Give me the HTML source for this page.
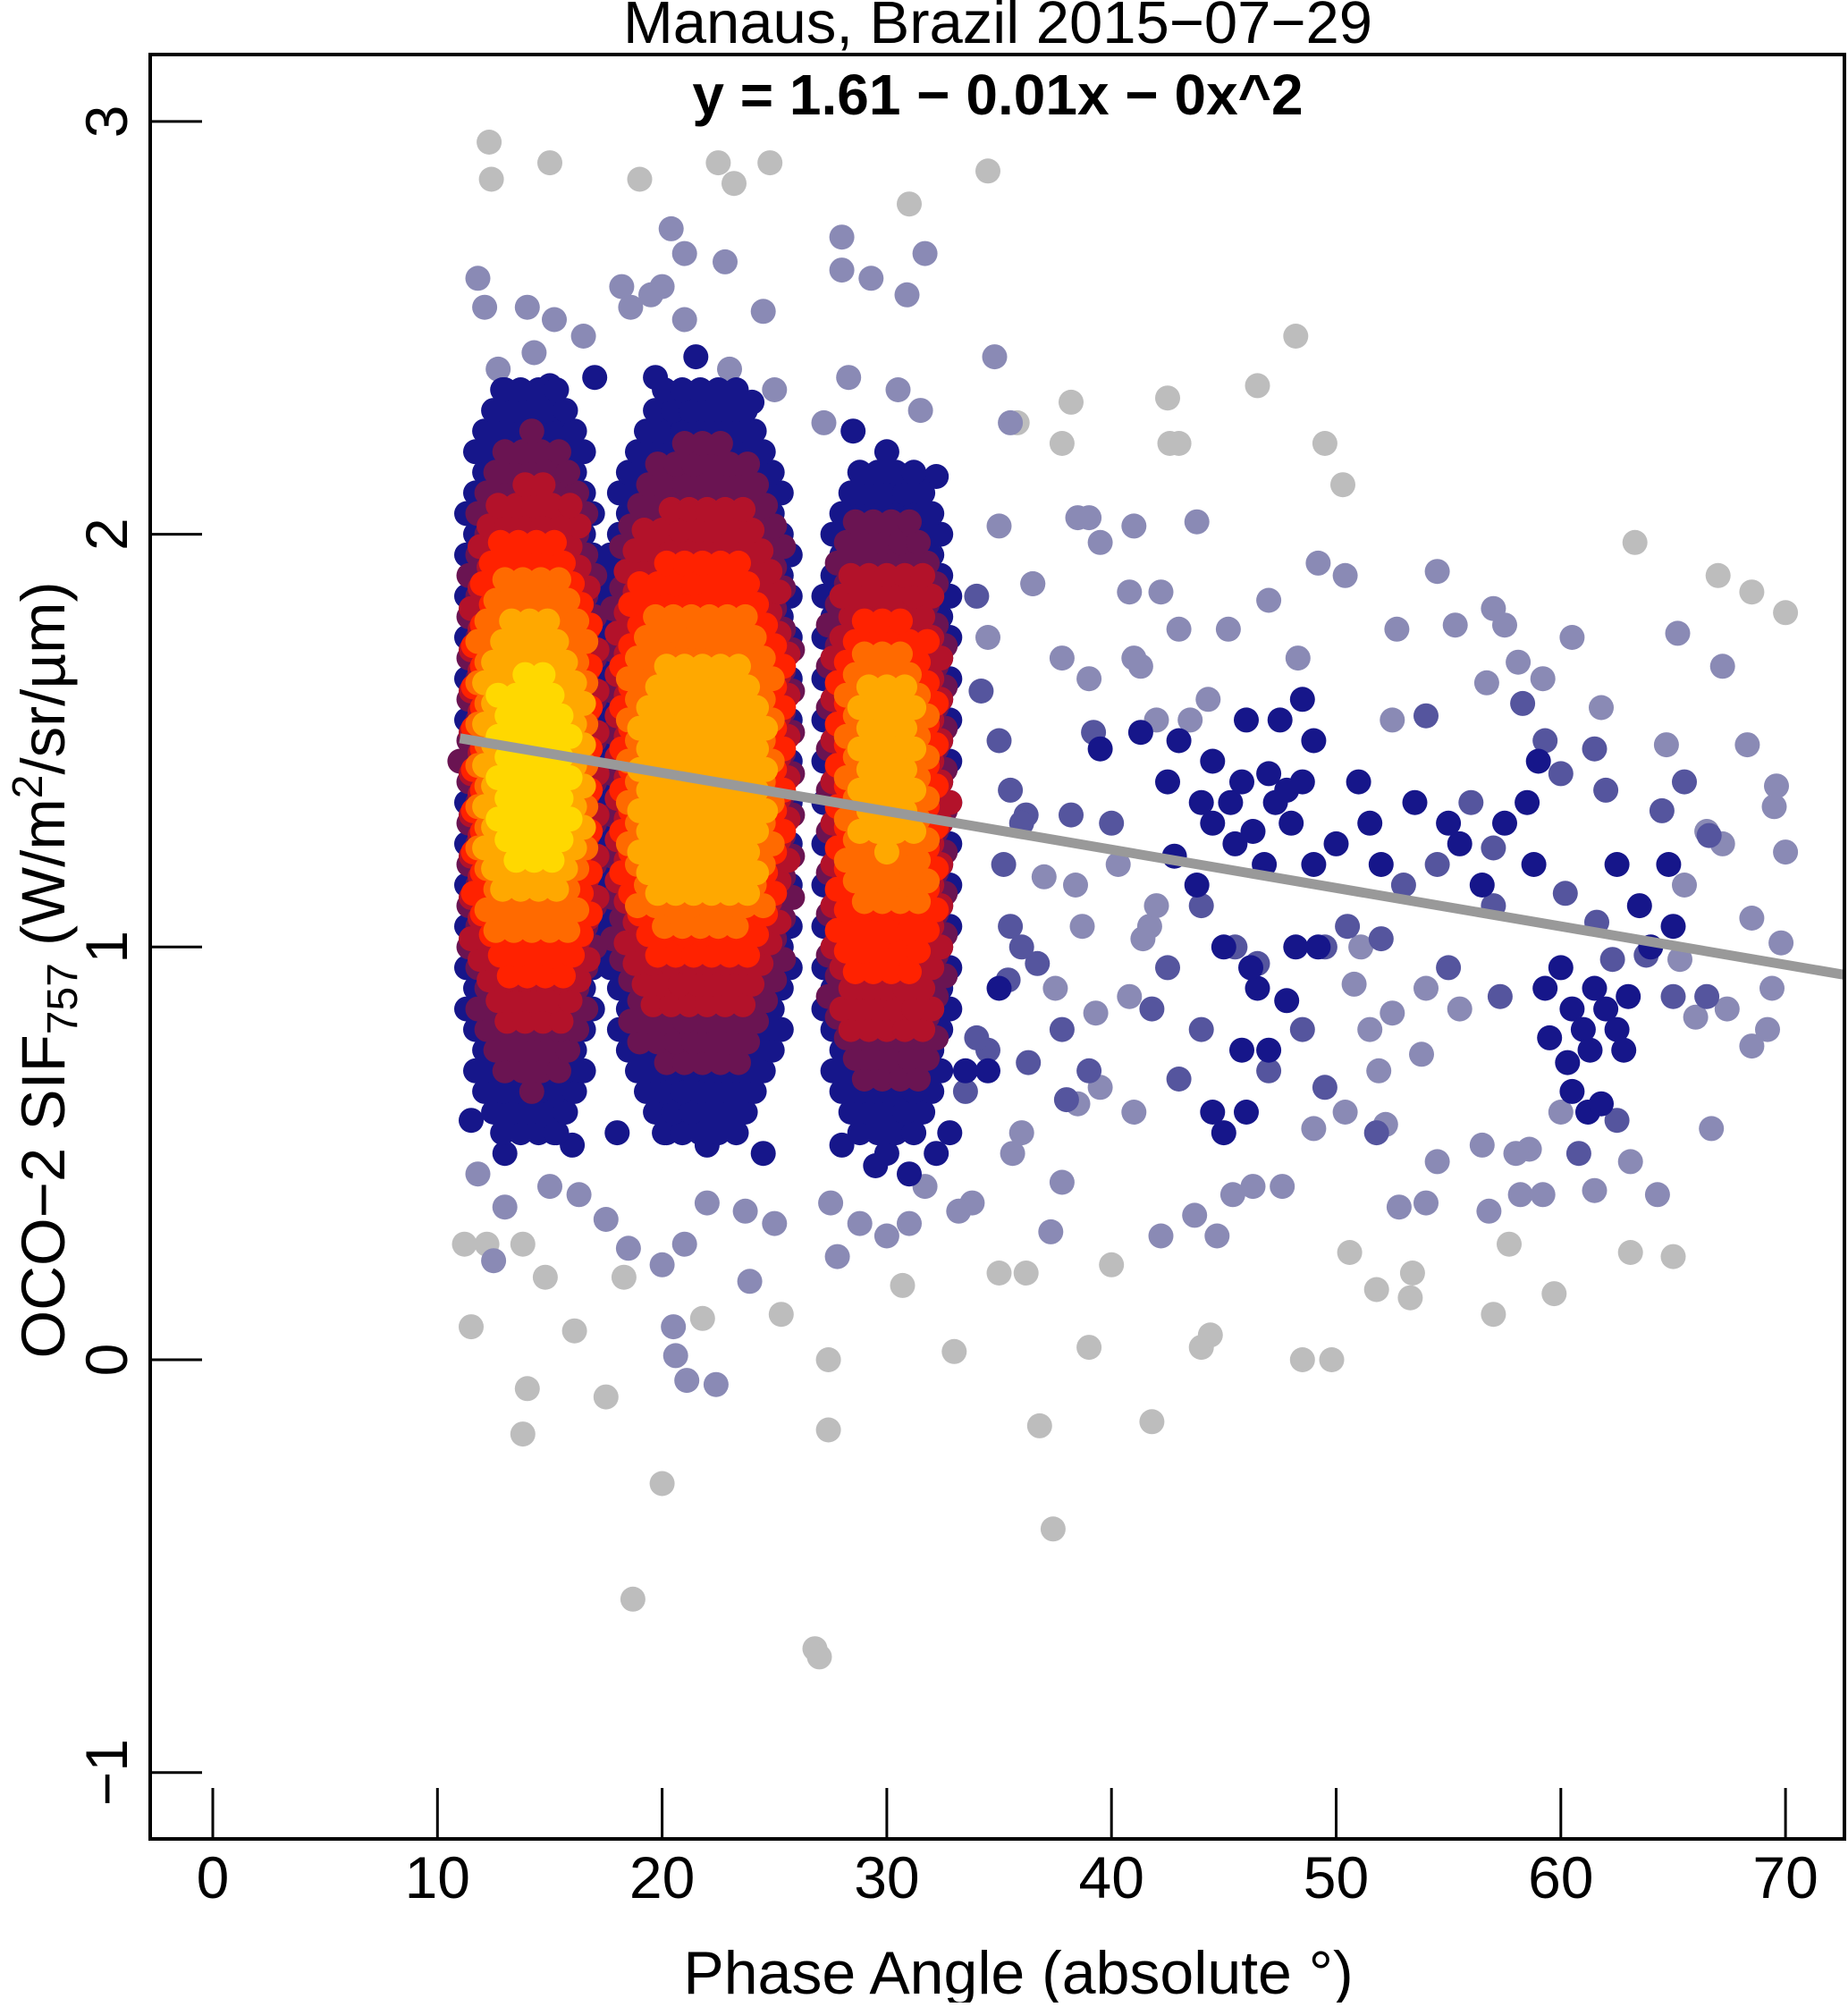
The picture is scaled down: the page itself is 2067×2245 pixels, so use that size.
<!DOCTYPE html>
<html><head><meta charset="utf-8"><style>
html,body{margin:0;padding:0;background:#fff}
svg text{font-family:"Liberation Sans",Arial,sans-serif;fill:#000}
</style></head><body>
<svg id="chart" width="2067" height="2240" viewBox="0 0 2067 2240" xmlns="http://www.w3.org/2000/svg">
<rect width="2067" height="2240" fill="#fff"/>
<text x="1116" y="48" font-size="67" text-anchor="middle">Manaus, Brazil 2015−07−29</text>
<text x="1116" y="128" font-size="64" font-weight="bold" text-anchor="middle">y = 1.61 − 0.01x  − 0x^2</text>
<g id="pts"></g>
<g id="fit"></g>
<g id="axes"></g>
<rect x="168" y="61" width="1895" height="1996" fill="none" stroke="#000" stroke-width="4"/>
<text x="1139" y="2230" font-size="68" text-anchor="middle">Phase Angle (absolute °)</text>
<text transform="translate(72,1085) rotate(-90)" font-size="69" text-anchor="middle">OCO−2 SIF<tspan font-size="48" dy="14">757</tspan><tspan dy="-14"> (W/m</tspan><tspan font-size="48" dy="-25">2</tspan><tspan dy="25">/sr/µm)</tspan></text>
</svg>
<script>
const xTicks=[0,10,20,30,40,50,60,70];
const yTicks=[-1,0,1,2,3];
const fitA=1.608, fitB=-0.0093, fitC=0;
// individual points: x, y, density level (0 = sparse gray ... 3 = navy)
const xs=[12.3,12.4,15,19,22.5,23.2,24.8,34.5,31,11.5,13.8,14,17.5,20,18.7,26.8,27,27.4,27.4,33,36.8,37.4,39,41.8,44,44.4,48.5,49.8,42.5,42.6,43,46.5,48.2,49.5,50.3,38.2,37.8,35.8,63.3,67,68.5,70,65,63.1,57,59.7,51.8,53.3,36.2,35,40,11.2,12.2,13.8,14.8,16.1,18.3,21.8,25.3,30.7,50.6,53.4,57.7,
11.8,12.1,14,15.2,18.2,19.5,20.4,21,22.8,24.5,28,28,30.9,31.7,29.3,34.8,35.5,38.5,39,39.5,41,42.2,43.8,47,49.2,50.4,52.7,54.5,55.3,57,57.5,60.5,65.2,67.2,36.5,37.8,39,41.3,43,45.2,48.3,56.7,58.1,59.2,61.8,64.7,68.3,69.6,69.5,70,66.5,65.5,67.2,68.5,69.8,69.4,69.2,68.5,67.4,66,65.3,58.6,58,56.5,56.8,58.2,59.2,60,61.5,63.1,64.3,66.7,54.5,52.2,52.8,54,50.4,49,47.6,46.3,45.4,44.7,43.7,42.2,41,39.5,38.5,37.8,37.3,36,35.6,33.8,33.2,31.7,31,30,27.5,27.8,25,23.7,22,21,20,18.5,17.5,16.3,15,13,12.5,11.8,20.5,21.1,22.4,20.6,23.9,28.8,40.8,39.3,37.5,38.7,37,38.4,40.3,41.7,42,41.4,52.5,51.5,51.9,53.8,55.5,50.8,51.1,54,12.7,14.3,16.5,18.6,20,21,23,25,27.2,28.3,30.5,31.5,34.5,
35,36.5,40.8,41,42,43.5,44.3,52.5,54,56,57,58.3,59.3,60,61.5,62,64.5,65.5,66.6,44,45.5,46.5,49.5,50.5,52,53,54.5,57,60.2,61.6,62.3,63.8,65,66.5,57.3,55,39.2,36.2,38.2,40,36.7,35.4,37.8,38,39,43,44,47,48.5,49.5,51.8,60.8,62.5,34.5,33.5,34,36.3,42.5,41.8,
34,34.2,35,35.5,36,35.2,35.5,36,35,34.5,33.5,32.8,44.5,45.3,45.8,46.3,47,47.3,47.8,48,48.5,46.8,45.5,44.5,44,47.5,48.5,49,46,43,42.5,45,46.5,47.8,45.8,47,44.5,45,46,60,60.5,61,61.5,62,62.5,59.5,60.3,61.3,63,62.8,59.3,61.2,60.5,61.8,62.5,63.5,64,65,64.8,51,51.5,52,55.5,56.5,57.5,58.8,58.5,59,39.5,41.3,42.8,43.8,49,50,55,53.5,48.2,49.2,46.2,13,15,17,19.7,21.5,24,28.5,30,31.5,32.2,13,15.2,16,18,20.2,22,24.5,28,29.5,31,32.2,12.5,11.5];
const ys=[2.95,2.86,2.9,2.86,2.9,2.85,2.9,2.88,2.8,0.08,-0.18,-0.07,-0.09,-0.3,-0.58,-0.7,-0.72,-0.17,0,0.02,-0.16,-0.41,0.03,-0.15,0.03,0.06,0,0,2.33,2.22,2.22,2.36,2.48,2.22,2.12,2.32,2.22,2.27,1.98,1.9,1.86,1.81,0.25,0.26,0.11,0.16,0.17,0.15,0.21,0.21,0.23,0.28,0.28,0.28,0.2,0.07,0.2,0.1,0.11,0.18,0.26,0.21,0.28,
2.62,2.55,2.55,2.52,2.6,2.58,2.74,2.68,2.66,2.54,2.72,2.64,2.58,2.68,2.62,2.43,2.27,2.04,2.04,1.98,2.02,1.86,2.03,1.84,1.93,1.9,1.77,1.91,1.78,1.82,1.78,1.75,1.76,1.68,1.88,1.7,1.65,1.68,1.77,1.77,1.7,1.64,1.69,1.65,1.58,1.49,1.49,1.39,1.34,1.23,1.28,1.15,1.25,1.07,1.01,0.9,0.8,0.76,0.85,0.83,0.97,0.51,0.5,0.52,0.36,0.4,0.4,0.6,0.41,0.48,0.4,0.56,0.48,0.57,0.37,0.38,0.6,0.56,0.42,0.42,0.4,0.3,0.35,0.3,0.6,0.66,0.62,0.43,0.31,0.55,0.5,0.38,0.36,0.42,0.33,0.3,0.38,0.25,0.33,0.36,0.38,0.28,0.23,0.27,0.34,0.4,0.42,0.37,0.24,0.45,0.08,-0.05,-0.06,0.01,0.19,0.33,0.88,0.84,0.9,1.05,1.17,1.15,1.2,1.05,1.1,1.02,0.84,0.8,0.7,0.74,0.85,0.91,1.0,0.9,2.4,2.44,2.48,2.55,2.6,2.52,2.4,2.35,2.27,2.38,2.35,2.3,1.75,
2.02,1.88,1.86,1.7,1.55,1.55,1.6,1.55,1.56,1.35,1.24,1.59,1.5,1.42,1.48,1.38,1.33,1.4,1.27,1.1,1.0,0.96,1.0,1.05,1.02,1.15,1.2,1.1,1.13,1.06,0.97,0.98,0.88,0.88,0.88,0.95,1.52,1.32,1.32,1.3,0.96,0.92,0.8,0.63,0.7,0.68,0.8,0.7,0.8,0.66,0.55,0.5,0.58,0.75,0.65,0.78,0.72,0.95,0.85,
1.85,1.62,1.5,1.38,1.3,1.2,1.05,1.0,0.9,0.7,0.7,0.55,1.3,1.35,1.4,1.28,1.42,1.35,1.38,1.3,1.4,1.2,1.25,1.45,1.35,1.55,1.6,1.5,1.55,1.5,1.4,1.0,0.9,0.87,0.75,0.75,0.6,0.55,0.6,0.95,0.85,0.8,0.9,0.85,0.8,0.78,0.72,0.75,0.88,0.75,0.9,0.6,0.65,0.62,1.2,1.1,1.0,1.05,1.2,1.4,1.3,1.2,1.25,1.15,1.3,1.2,1.35,1.45,1.48,1.52,1.22,1.15,1.2,1.25,1.3,1.35,1.0,1.0,0.95,2.35,2.36,2.38,2.38,2.43,2.32,2.25,2.2,2.12,2.14,0.5,0.55,0.52,0.55,0.55,0.52,0.5,0.52,0.47,0.45,0.5,0.65,0.58];
const lev=[].concat(Array(63).fill(0),Array(155).fill(1),Array(59).fill(2),Array(200).fill(3));
// dense core regions: center x, center y, radius x, radius y, density level (drawn as filled point clusters)
const coreCx=[14.2,14.2,14.2,14.2,14.2,14.2,14.2, 21.7,21.7,21.7,21.7,21.7,21.7, 30,30,30,30,30,30];
const coreCy=[1.45,1.45,1.45,1.45,1.45,1.45,1.42, 1.45,1.45,1.45,1.45,1.42,1.4, 1.35,1.35,1.35,1.35,1.4,1.45];
const coreRx=[3.3,3.2,3.1,3.0,2.8,2.5,1.9, 4.4,4.3,4.1,3.9,3.6,3.1, 3.2,3.0,2.8,2.6,2.2,1.6];
const coreRy=[0.95,0.8,0.68,0.57,0.46,0.36,0.26, 0.95,0.78,0.64,0.52,0.42,0.32, 0.85,0.72,0.6,0.46,0.34,0.22];
const coreLev=[3,4,5,6,7,8,9, 3,4,5,6,7,8, 3,4,5,6,7,8];

const palette=['#bdbdbd','#8a8ab5','#55559e','#16168a','#6a1452','#b3122a','#ff2200','#ff6a00','#ffa800','#ffd800'];
const X=v=>238+v*25.13, Y=v=>1521-v*461.7;
const NS='http://www.w3.org/2000/svg';
const pts=document.getElementById('pts'), axes=document.getElementById('axes'), fit=document.getElementById('fit');
function dot(x,y,l){
  const c=document.createElementNS(NS,'circle');
  c.setAttribute('cx',X(x).toFixed(1));c.setAttribute('cy',Y(y).toFixed(1));
  c.setAttribute('r',14);c.setAttribute('fill',palette[l]);
  
  
  pts.appendChild(c);
}
for(let i=0;i<xs.length;i++) dot(xs[i],ys[i],lev[i]);
const order=coreLev.map((l,i)=>i).sort((a,b)=>coreLev[a]-coreLev[b]);
for(const i of order){
  let row=0;
  for(let yy=coreCy[i]-coreRy[i];yy<=coreCy[i]+coreRy[i];yy+=0.05,row++){
    for(let xx=coreCx[i]-coreRx[i]+(row%2)*0.4;xx<=coreCx[i]+coreRx[i];xx+=0.8){
      const d=Math.abs((xx-coreCx[i])/coreRx[i])**3+Math.abs((yy-coreCy[i])/coreRy[i])**2.5;
      if(d<=1 && xx>=10.9) dot(xx,yy,coreLev[i]);
    }
  }
}
// fit line
const fx0=11, fx1=72.6;
const ln=document.createElementNS(NS,'line');
ln.setAttribute('x1',X(fx0));ln.setAttribute('y1',Y(fitA+fitB*fx0+fitC*fx0*fx0));
ln.setAttribute('x2',X(fx1));ln.setAttribute('y2',Y(fitA+fitB*fx1+fitC*fx1*fx1));
ln.setAttribute('stroke','#999');ln.setAttribute('stroke-width','11');


fit.appendChild(ln);
xTicks.forEach(t=>{
  const l=document.createElementNS(NS,'line');
  l.setAttribute('x1',X(t));l.setAttribute('x2',X(t));l.setAttribute('y1',2000);l.setAttribute('y2',2057);
  l.setAttribute('stroke','#000');l.setAttribute('stroke-width','3');
  
  
  axes.appendChild(l);
  const tx=document.createElementNS(NS,'text');
  tx.setAttribute('x',X(t));tx.setAttribute('y',2123);tx.setAttribute('font-size','66');tx.setAttribute('text-anchor','middle');
  tx.textContent=t;
  
  
  axes.appendChild(tx);
});
yTicks.forEach(t=>{
  const l=document.createElementNS(NS,'line');
  l.setAttribute('x1',168);l.setAttribute('x2',226);l.setAttribute('y1',Y(t));l.setAttribute('y2',Y(t));
  l.setAttribute('stroke','#000');l.setAttribute('stroke-width','3');
  
  
  axes.appendChild(l);
  const tx=document.createElementNS(NS,'text');
  tx.setAttribute('transform','translate(142,'+Y(t)+') rotate(-90)');
  tx.setAttribute('font-size','66');tx.setAttribute('text-anchor','middle');
  tx.textContent=t<0?'−'+Math.abs(t):t;
  
  
  axes.appendChild(tx);
});
</script>
</body></html>
